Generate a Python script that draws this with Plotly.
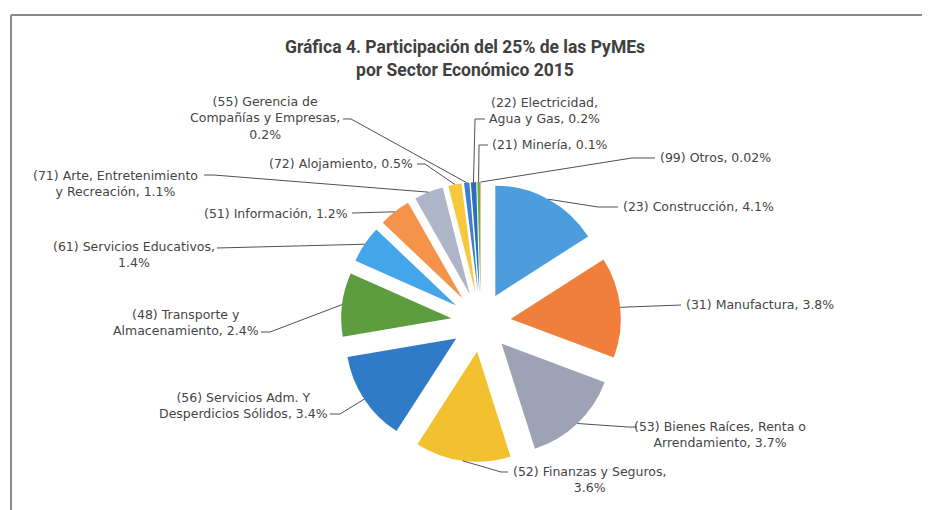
import math
import plotly.graph_objects as go

# ---------------- data ----------------
sectors = [
    "(23) Construcción", "(31) Manufactura", "(53) Bienes Raíces, Renta o Arrendamiento",
    "(52) Finanzas y Seguros", "(56) Servicios Adm. Y Desperdicios Sólidos",
    "(48) Transporte y Almacenamiento", "(61) Servicios Educativos", "(51) Información",
    "(71) Arte, Entretenimiento y Recreación", "(72) Alojamiento",
    "(55) Gerencia de Compañías y Empresas", "(22) Electricidad, Agua y Gas",
    "(21) Minería", "(99) Otros",
]
shares = [4.1, 3.8, 3.7, 3.6, 3.4, 2.4, 1.4, 1.2, 1.1, 0.5, 0.2, 0.2, 0.1, 0.02]
share_text = ["4.1%", "3.8%", "3.7%", "3.6%", "3.4%", "2.4%", "1.4%", "1.2%",
              "1.1%", "0.5%", "0.2%", "0.2%", "0.1%", "0.02%"]
label_lines = [
    "(23) Construcción, {}",
    "(31) Manufactura, {}",
    "(53) Bienes Raíces, Renta o<br>Arrendamiento, {}",
    "(52) Finanzas y Seguros,<br>{}",
    "(56) Servicios Adm. Y<br>Desperdicios Sólidos, {}",
    "(48) Transporte y<br>Almacenamiento, {}",
    "(61) Servicios Educativos,<br>{}",
    "(51) Información, {}",
    "(71) Arte, Entretenimiento<br>y Recreación, {}",
    "(72) Alojamiento, {}",
    "(55) Gerencia de<br>Compañías y Empresas,<br>{}",
    "(22) Electricidad,<br>Agua y Gas, {}",
    "(21) Minería, {}",
    "(99) Otros, {}",
]
title_text = "Gráfica 4. Participación del 25% de las PyMEs<br>por Sector Económico 2015"

# ---------------- style / layout ----------------
colors = ["#4C9DDE", "#F07F3C", "#9DA3B5", "#F3C030", "#2F7BC8", "#5E9C40",
          "#45A5EA", "#F6934A", "#AEB5C8", "#F6C83E", "#3E7FD0", "#2F6DBA",
          "#6AAE45", "#E07030"]
W, H = 930, 510
PULL = 0.27
CX, CY, HALF = 473, 314, 140  # pie box centre and half size in px

# label placement: (x, y, xanchor, line start, elbow)
label_layout = [
    (613, 199, "left", (610, 199), (590, 199)),
    (676, 296, "left", (673, 297), None),
    (712, 426, "center", (629, 419), (620, 419)),
    (581, 471, "center", (500, 464), (493, 464)),
    (235, 397, "center", (322, 406), (332, 406)),
    (178, 314, "center", (253, 324), (262, 324)),
    (126, 246, "center", (209, 240), None),
    (342, 205, "right", (344, 205), None),
    (107, 175, "center", (196, 167), (206, 167)),
    (407, 155, "right", (409, 156), (417, 156)),
    (257, 110, "center", (335, 111), (343, 111)),
    (536, 103, "center", (477, 111), (467, 111)),
    (482, 137, "left", (480, 137), (471, 137)),
    (650, 149, "left", (647, 150), (624, 150)),
]

def px(x, y):
    return x / W, 1 - y / H

fig = go.Figure(go.Pie(
    labels=sectors, values=shares, sort=False, direction="clockwise", rotation=0,
    pull=[PULL] * len(shares), marker=dict(colors=colors, line=dict(width=0)),
    textinfo="none", hoverinfo="label+value", showlegend=False,
    domain=dict(x=[(CX - HALF) / W, (CX + HALF) / W],
                y=[(H - CY - HALF) / H, (H - CY + HALF) / H]),
))

# anchor points on the slices computed from the data
total = sum(shares)
r = HALF / (1 + PULL)
shapes = []
annotations = []
cum = 0.0
for i, v in enumerate(shares):
    mid = (cum + v / 2) / total * 2 * math.pi
    cum += v
    ax = CX + (1 + PULL) * r * math.sin(mid)
    ay = CY - (1 + PULL) * r * math.cos(mid)
    tx, ty, xa, start, elbow = label_layout[i]
    pts = [start] + ([elbow] if elbow else []) + [(ax, ay)]
    path = "M " + " L ".join("{:.4f},{:.4f}".format(*px(*p)) for p in pts)
    shapes.append(dict(type="path", path=path, xref="paper", yref="paper",
                       line=dict(color="#505050", width=1)))
    x, y = px(tx, ty)
    annotations.append(dict(text=label_lines[i].format(share_text[i]), x=x, y=y,
                            xref="paper", yref="paper", xanchor=xa, yanchor="middle",
                            align="center", showarrow=False,
                            font=dict(family="DejaVu Sans, Verdana, sans-serif", size=12.5,
                                      color="#454545")))

# frame
shapes.append(dict(type="line", xref="paper", yref="paper", x0=3 / W, x1=1,
                   y0=1 - 7 / H, y1=1 - 7 / H, line=dict(color="#8a8a8a", width=2)))
shapes.append(dict(type="line", xref="paper", yref="paper", x0=3 / W, x1=3 / W,
                   y0=1 - 7 / H, y1=0, line=dict(color="#8a8a8a", width=2)))

fig.update_layout(
    width=W, height=H, margin=dict(l=0, r=0, t=0, b=0),
    paper_bgcolor="white", plot_bgcolor="white",
    title=dict(text="<b>" + title_text + "</b>", x=457 / W, xanchor="center",
               y=1 - 45 / H, yanchor="middle", yref="container",
               font=dict(family="Liberation Sans Narrow, Arial Narrow, Roboto, sans-serif",
                         size=17.5, color="#404040")),
    shapes=shapes, annotations=annotations,
)
fig.write_html("out.html")
